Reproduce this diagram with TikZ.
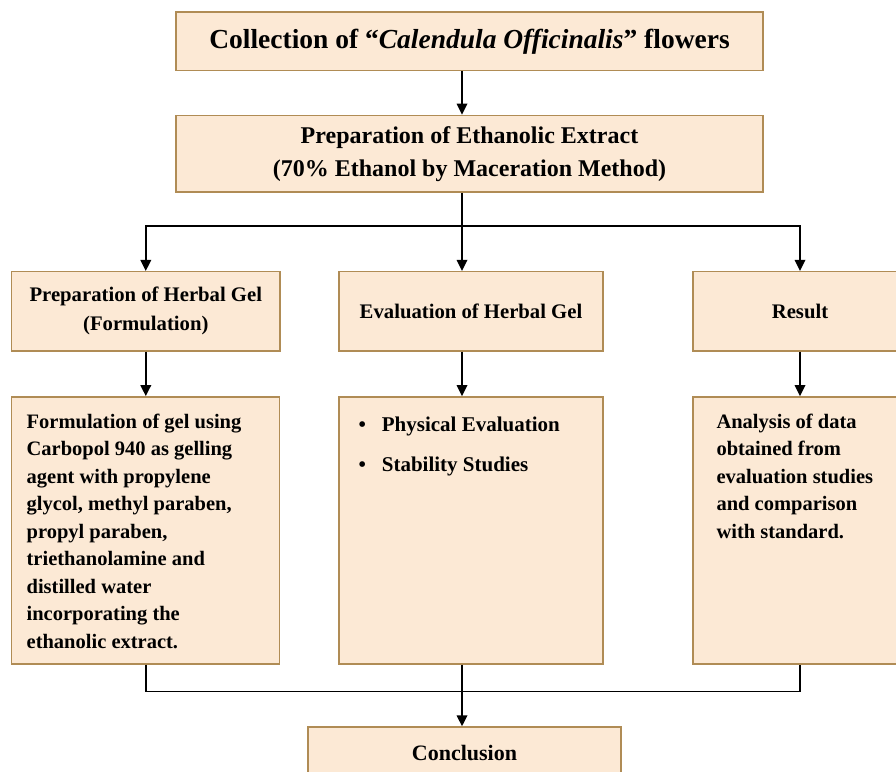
\documentclass[tikz,border=0pt]{standalone}
\usepackage{fontspec}
\setmainfont{Liberation Serif}[BoldFont={Liberation Serif Bold}, ItalicFont={Liberation Serif Italic}, BoldItalicFont={Liberation Serif Bold Italic}]
\usepackage{xcolor}
\usetikzlibrary{positioning}
\usetikzlibrary{arrows.meta}
\definecolor{peach}{HTML}{FCE9D5}
\definecolor{bronze}{HTML}{B08C55}
\tikzstyle{stage}=[draw=bronze, fill=peach, line width=1.4pt, text=black, align=center, inner sep=4pt]
\tikzstyle{title}=[font=\bfseries\fontsize{27.5}{33}\selectfont]
\tikzstyle{head}=[font=\bfseries\fontsize{20.7}{29}\selectfont]
\tikzstyle{detail}=[stage, inner ysep=17pt, anchor=north west, font=\bfseries\fontsize{20.5}{27.5}\selectfont]
\tikzstyle{flow}=[-{Triangle[length=11pt, width=10.5pt]}, line width=1.8pt]
\tikzstyle{joint}=[line width=1.8pt]
\newcommand{\detailtext}[2]{\parbox[t][233pt][t]{#1}{\raggedright #2}}

\begin{document}
\begin{tikzpicture}[x=1pt, y=1pt, node distance=44pt]
    \useasboundingbox (0,0) rectangle (896,-771);
    \clip (0,0) rectangle (896,-771);
    \fill[white] (0,0) rectangle (896,-771);

    % main line
    \node[stage, title, minimum width=587pt, minimum height=58.7pt] (collect) at (469.5,-41.35)
        {Collection of “\textit{Calendula Officinalis}” flowers};
    \node[stage, minimum width=587pt, minimum height=76.7pt, font=\bfseries\fontsize{24}{33}\selectfont] (extract) [below = 43.3pt of collect]
        {Preparation of Ethanolic Extract\\(70\% Ethanol by Maceration Method)};

    \coordinate (spine) at (462,0);
    \coordinate (split) at (462,-226);
    \coordinate (merge) at (462,-691.5);

    % three branches
    \node[stage, head, minimum width=268.3pt, minimum height=79.3pt] (prepgel) at (145.8,-311.3) {Preparation of Herbal Gel\\(Formulation)};
    \node[stage, head, minimum width=264pt, minimum height=79.3pt]   (evalgel) at (471,-311.3)   {Evaluation of Herbal Gel};
    \node[stage, head, minimum width=214pt, minimum height=79.3pt]   (result)  at (800,-311.3)   {Result};

    \node[detail, inner xsep=15pt] (formul) [below right = 44.5pt and 0pt of prepgel.south west]
        {\detailtext{238pt}{Formulation of gel using\\Carbopol 940 as gelling\\agent with propylene\\glycol, methyl paraben,\\propyl paraben,\\triethanolamine and\\distilled water\\incorporating the\\ethanolic extract.}};
    \node[detail, inner xsep=19.5pt, font=\bfseries\fontsize{21}{27.5}\selectfont] (evallist) [below right = 44.5pt and 0pt of evalgel.south west]
        {\detailtext{225pt}{\rule{0pt}{18pt}\textbullet\hspace{16pt}Physical Evaluation\\[12.5pt]\textbullet\hspace{16pt}Stability Studies}};
    \node[detail, inner xsep=23.5pt] (analysis) [below right = 44.5pt and 0pt of result.south west]
        {\detailtext{190pt}{Analysis of data\\obtained from\\evaluation studies\\and comparison\\with standard.}};

    \node[stage, minimum width=313pt, minimum height=51.4pt, font=\bfseries\fontsize{22}{27}\selectfont] (conclude) at (464.5,-752.7) {Conclusion};

    % connectors
    \draw[flow] (collect.south -| spine) -- (extract.north -| spine);
    \draw[joint] (extract.south -| spine) -- (split);
    \draw[flow] (split) -| (prepgel);
    \draw[flow] (split) -| (result);
    \draw[flow] (split) -- (evalgel.north -| split);
    \draw[flow] (prepgel) -- (prepgel |- formul.north);
    \draw[flow] (evalgel.south -| spine) -- (evallist.north -| spine);
    \draw[flow] (result) -- (result |- analysis.north);
    \draw[joint] (prepgel |- formul.south) |- (merge) -| (result |- analysis.south);
    \draw[flow] (evallist.south -| spine) -- (conclude.north -| spine);
\end{tikzpicture}
\end{document}
